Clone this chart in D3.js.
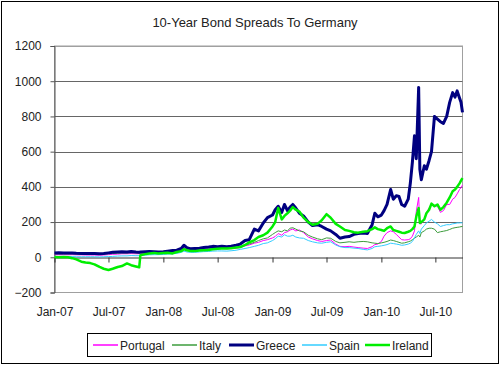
<!DOCTYPE html>
<html>
<head>
<meta charset="utf-8">
<script src="https://cdn.jsdelivr.net/npm/d3@7"></script>
<style>
  body { margin: 0; background: #fff; }
  text { font-family: "Liberation Sans", Arial, sans-serif; }
</style>
</head>
<body>
<div id="chart"></div>
<script>
// data (basis points over Bunds)
var dates = [
  "2007-01-01","2007-01-15","2007-02-01","2007-02-15","2007-03-01","2007-03-15","2007-04-01","2007-04-15",
  "2007-05-01","2007-05-15","2007-06-01","2007-06-15","2007-07-01","2007-07-15","2007-08-01","2007-08-15",
  "2007-09-01","2007-09-15","2007-10-01","2007-10-12","2007-10-16","2007-11-01","2007-11-15","2007-12-01","2007-12-15",
  "2008-01-01","2008-01-15","2008-02-01","2008-02-15","2008-03-01","2008-03-10","2008-03-20","2008-04-01","2008-04-15",
  "2008-05-01","2008-05-15","2008-06-01","2008-06-15","2008-07-01","2008-07-15","2008-08-01","2008-08-15",
  "2008-09-01","2008-09-15","2008-10-01","2008-10-15","2008-11-01","2008-11-15","2008-12-01","2008-12-15",
  "2009-01-01","2009-01-10","2009-01-20","2009-02-01","2009-02-10","2009-02-20","2009-03-01","2009-03-10","2009-03-20",
  "2009-04-01","2009-04-15","2009-05-01","2009-05-15","2009-06-01","2009-06-15","2009-07-01","2009-07-15",
  "2009-08-01","2009-08-15","2009-09-01","2009-09-15","2009-10-01","2009-10-15","2009-11-01","2009-11-15",
  "2009-12-01","2009-12-10","2009-12-20",
  "2010-01-01","2010-01-10","2010-01-20","2010-02-01","2010-02-10","2010-02-20","2010-03-01","2010-03-10","2010-03-20",
  "2010-04-01","2010-04-08","2010-04-15","2010-04-22","2010-04-28","2010-05-06","2010-05-10","2010-05-15","2010-05-25",
  "2010-06-01","2010-06-10","2010-06-18","2010-06-28","2010-07-08","2010-07-18","2010-07-28","2010-08-08","2010-08-18",
  "2010-08-28","2010-09-05","2010-09-12","2010-09-20","2010-09-25","2010-09-30"
];

var portugal = [
  15,14,15,14,15,14,14,13, 13,13,12,13,15,17,18,20, 20,21,20,20,20,22,24,25,24,
  25,27,28,30,40,55,45,40,40, 42,44,45,48,50,50,48,50, 52,55,65,70,80,85,95,100,
  110,118,135,125,140,145,155,160,150, 155,140,115,105,95,90,95,98, 75,62,60,62,58,55,52,50,
  60,72,75,
  90,120,140,150,145,130,115,100,98, 100,105,120,150,260,340,190,190,220,
  250,280,300,295,290,255,265,300,300, 330,340,360,385,395,410
];

var italy = [
  20,19,20,19,20,19,18,18, 18,17,17,18,20,21,23,25, 24,26,25,24,24,26,28,28,27,
  28,30,32,35,40,50,42,40,42, 44,45,48,50,52,52,50,52, 55,60,70,75,85,95,105,110,
  130,140,150,145,155,150,165,168,160, 150,145,125,115,105,100,110,108, 90,82,85,88,85,88,90,88,
  82,80,78,
  82,85,90,98,95,90,85,80,82, 88,92,100,108,115,125,115,140,150,
  160,165,165,160,140,145,148,152,158, 165,168,170,172,174,175
];

var greece = [
  25,26,25,24,25,23,22,22, 21,22,20,22,25,28,30,32, 30,33,30,29,30,32,33,32,30,
  32,35,38,40,50,68,55,48,50, 52,55,58,62,60,62,60,63, 68,75,95,100,160,150,195,225,
  240,270,290,255,300,265,285,300,280, 250,235,200,180,185,175,160,150, 130,108,115,118,130,135,138,135,
  185,250,230,
  240,265,300,385,330,350,345,300,290, 330,420,540,690,560,965,500,440,520,
  500,550,600,800,785,770,760,800,880, 935,910,945,905,880,823
];

var spain = [
  5,4,5,4,4,3,3,3, 3,3,2,3,4,5,7,8, 8,10,9,9,10,12,14,15,15,
  16,18,20,22,28,35,30,28,28, 30,32,33,35,36,36,35,37, 40,45,50,55,62,68,78,82,
  95,105,120,115,128,120,120,125,115, 110,108,95,88,82,80,85,88, 70,60,55,55,52,50,45,42,
  50,60,62,
  65,68,72,80,78,75,72,68,70, 75,80,90,110,130,150,135,160,180,
  195,205,215,200,190,175,180,185,185, 190,192,195,195,196,195
];

var ireland = [
  2,0,2,0,-5,-12,-25,-30, -33,-40,-55,-65,-72,-65,-55,-50, -35,-45,-52,-57,12,18,22,25,22,
  25,26,22,30,35,46,40,36,35, 38,40,42,45,48,50,50,52, 55,58,70,85,98,115,125,140,
  175,200,280,215,235,250,265,285,270, 260,225,200,185,190,210,245,225, 190,175,155,150,142,140,145,148,
  160,170,160,
  155,150,165,175,155,150,145,140,138, 145,150,160,175,230,280,195,200,215,
  250,270,305,290,300,270,285,310,340, 375,385,400,420,435,450
];

var names = ["Portugal", "Italy", "Greece", "Spain", "Ireland"];
var colors = ["#ff00ff", "#3c9c3c", "#000080", "#33ccff", "#00ee00"];
var widths = [1, 1, 3, 1, 2.5];
var yTicks = [-200, 0, 200, 400, 600, 800, 1000, 1200];
var xTickLabels = ["Jan-07","Jul-07","Jan-08","Jul-08","Jan-09","Jul-09","Jan-10","Jul-10"];

var svgWidth = 500, svgHeight = 366;
var plot = {left: 54.5, right: 462.5, top: 46, bottom: 292.5};
var fontStack = "'Liberation Sans', Arial, sans-serif";

var parse = d3.timeParse("%Y-%m-%d");
var series = [portugal, italy, greece, spain, ireland];

var svg = d3.select("#chart").append("svg")
  .attr("width", svgWidth)
  .attr("height", svgHeight);

// outer frame
svg.append("rect")
  .attr("x", 1.5).attr("y", 1.5)
  .attr("width", 497).attr("height", 362)
  .attr("fill", "#fff").attr("stroke", "#000");

svg.append("text")
  .attr("x", 255).attr("y", 27)
  .attr("text-anchor", "middle")
  .attr("font-size", 13)
  .attr("fill", "#222")
  .text("10-Year Bond Spreads To Germany");

var x = d3.scaleTime()
  .domain([parse("2007-01-01"), parse("2010-09-30")])
  .range([plot.left, plot.right]);

var y = d3.scaleLinear()
  .domain([-200, 1200])
  .range([plot.bottom, plot.top]);

// plot area border
svg.append("rect")
  .attr("x", plot.left).attr("y", plot.top)
  .attr("width", plot.right - plot.left).attr("height", plot.bottom - plot.top)
  .attr("fill", "none").attr("stroke", "#a0a0a0");

// gridlines
svg.append("g")
  .selectAll("line")
  .data(yTicks.filter(d => d > 0))
  .enter()
  .append("line")
  .attr("x1", plot.left).attr("x2", plot.right)
  .attr("y1", d => Math.round(y(d)) + 0.5)
  .attr("y2", d => Math.round(y(d)) + 0.5)
  .attr("stroke", d => d == 1200 ? "#a0a0a0" : "#666");

// y axis
var leftAxis = d3.axisLeft(y)
  .tickValues(yTicks)
  .tickFormat(d3.format("d"))
  .tickSize(4)
  .tickPadding(9);
var yAxisG = svg.append("g")
  .attr("transform", `translate(${plot.left}, 0)`)
  .call(leftAxis);
yAxisG.select(".domain").attr("stroke", "#555");
yAxisG.selectAll(".tick line").attr("stroke", "#555");
yAxisG.selectAll("text")
  .attr("font-size", 12)
  .attr("fill", "#222")
  .style("font-family", fontStack);

// x axis sits on zero
var xTickDates = d3.timeMonth.every(6).range(parse("2007-01-01"), parse("2010-09-01"));
var y0 = Math.round(y(0)) + 0.5;
var bottomAxis = d3.axisBottom(x)
  .tickValues(xTickDates)
  .tickFormat((d, i) => xTickLabels[i])
  .tickSize(5)
  .tickSizeOuter(0);
var xAxisG = svg.append("g")
  .attr("transform", `translate(0, ${y0})`)
  .call(bottomAxis);
xAxisG.select(".domain").attr("stroke", "#333");
xAxisG.selectAll(".tick line").attr("stroke", "#333");
xAxisG.selectAll("text")
  .attr("y", plot.bottom + 15 - y0)
  .attr("font-size", 12)
  .attr("fill", "#222")
  .style("font-family", fontStack);

// lines
var line = d3.line()
  .x(d => x(d.date))
  .y(d => y(d.value));

series.forEach(function(vals, i) {
  var pts = dates.map((d, j) => ({date: parse(d), value: vals[j]}));
  svg.append("path")
    .datum(pts)
    .attr("d", line)
    .attr("fill", "none")
    .attr("stroke", colors[i])
    .attr("stroke-width", widths[i])
    .attr("stroke-linejoin", "round");
});

// legend
var legend = svg.append("g");
legend.append("rect")
  .attr("x", 87.5).attr("y", 333.5)
  .attr("width", 344).attr("height", 23)
  .attr("fill", "#fff").attr("stroke", "#000");
var legendX = [93, 172, 229, 302, 365];
names.forEach(function(n, i) {
  legend.append("line")
    .attr("x1", legendX[i]).attr("x2", legendX[i] + 25)
    .attr("y1", 345).attr("y2", 345)
    .attr("stroke", colors[i])
    .attr("stroke-width", Math.max(widths[i], 1.5));
  legend.append("text")
    .attr("x", legendX[i] + 27).attr("y", 350)
    .attr("font-size", 12)
    .attr("fill", "#222")
    .text(n);
});
</script>
</body>
</html>
